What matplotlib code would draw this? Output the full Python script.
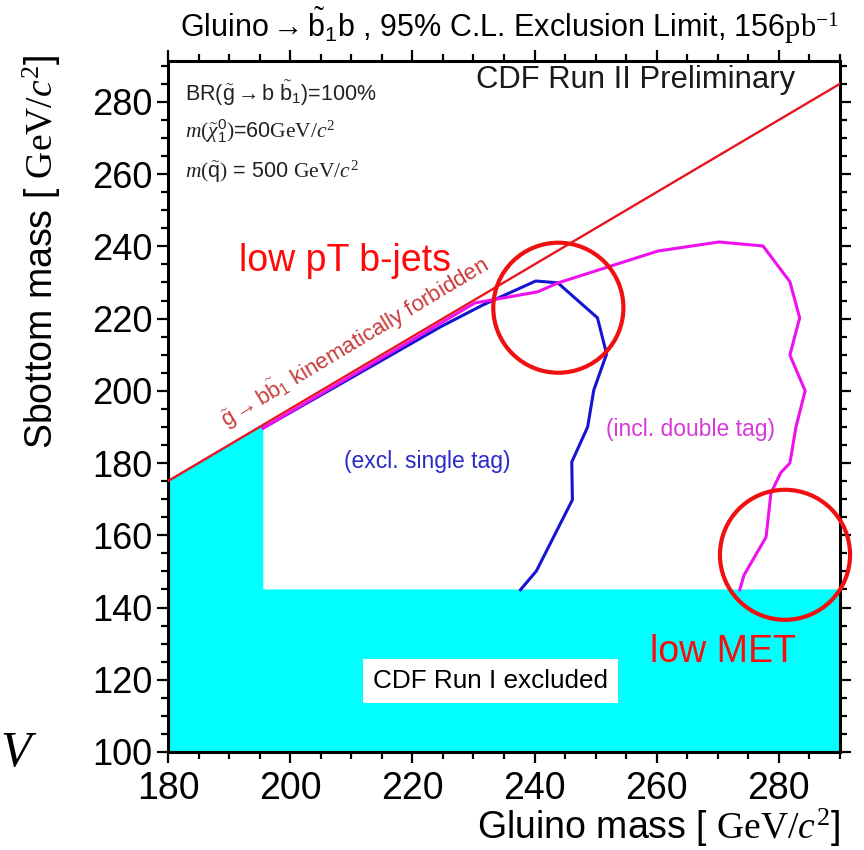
import matplotlib
matplotlib.use("Agg")
import matplotlib.pyplot as plt
from matplotlib.patches import Ellipse, Polygon
from matplotlib.ticker import MultipleLocator

plt.rcParams['mathtext.fontset'] = 'custom'
plt.rcParams['mathtext.rm'] = 'Liberation Serif'
plt.rcParams['mathtext.it'] = 'Liberation Serif:italic'
plt.rcParams['mathtext.bf'] = 'Liberation Serif:bold'
plt.rcParams['mathtext.sf'] = 'Liberation Sans'
SANS = ['Liberation Sans', 'DejaVu Sans']

# Kinematic limit m(sbottom) = m(gluino) - m(b)
kin_x = [180, 290]
kin_y = [175, 285]

# Run I excluded region
run1_x = [180, 180, 195.6, 195.6, 290, 290]
run1_y = [100, 175, 190.6, 145, 145, 100]

# Exclusion contour, single tag only
single_x = [195.6, 224.6, 231.6, 240.2, 243.8, 250.3, 251.8, 249.7, 248.7,
            246.1, 246.2, 240.3, 237.7]
single_y = [189.7, 217.7, 223.8, 230.4, 229.9, 220.2, 210.2, 200.2, 190.0,
            180.3, 169.8, 150.1, 144.9]

# Exclusion contour including double tag
double_x = [195.6, 230.2, 240.5, 243.9, 260.2, 270.2, 277.4, 281.8, 283.4,
            281.8, 284.3, 282.8, 281.8, 280.3, 278.7, 277.9, 274.3, 273.6]
double_y = [189.7, 224.3, 227.4, 229.9, 238.7, 241.2, 240.1, 230.2, 220.2,
            209.9, 200.0, 190.0, 180.0, 177.3, 171.7, 159.5, 149.0, 144.9]

fig = plt.figure(figsize=(8.64, 8.5), dpi=100)
ax = fig.add_axes([0.1944, 0.1153, 0.7778, 0.8129])
ax.set_xlim(180, 290)
ax.set_ylim(100, 291.3)

ax.add_patch(Polygon(list(zip(run1_x, run1_y)), closed=True,
                     facecolor='#00ffff', edgecolor='none', zorder=1))
ax.plot(kin_x, kin_y, color='#e8141e', lw=1.7, zorder=3)
ax.plot(single_x, single_y, color='#1414d2', lw=2.2, zorder=4)
ax.plot(double_x, double_y, color='#ee10ee', lw=2.2, zorder=5)

# highlighted regions
for cx, cy in [(243.9, 223.0), (281.0, 154.6)]:
    ax.add_patch(Ellipse((cx, cy), 21.3, 36.0, facecolor='none',
                         edgecolor='#f01010', lw=3.0, zorder=6, clip_on=False))

ax.text(209.0, 235.9, 'low pT b-jets', color='#ff0a0a', fontsize=27,
        family=SANS, ha='center', va='center', zorder=7)
ax.text(270.8, 127.7, 'low MET', color='#ff0a0a', fontsize=27,
        family=SANS, ha='center', va='center', zorder=7)
ax.text(222.5, 180.3, '(excl. single tag)', color='#2a2ac8', fontsize=16.5,
        family=SANS, ha='center', va='center')
ax.text(265.6, 189.2, '(incl. double tag)', color='#d838d8', fontsize=16.5,
        family=SANS, ha='center', va='center')
ax.text(232.8, 119.7, 'CDF Run I excluded', color='black', fontsize=18.8,
        family=SANS, ha='center', va='center',
        bbox=dict(facecolor='white', edgecolor='none', pad=7))
ax.text(256.6, 286.0, 'CDF Run II Preliminary', color='#1a1a1a', fontsize=22.3,
        family=SANS, ha='center', va='center')
ax.text(210.5, 213.5,
        r'$\tilde{\mathsf{g}}\rightarrow$b$\tilde{\mathsf{b}}_{\mathsf{1}}$ kinematically forbidden',
        color='#c83c3c', fontsize=16, family=SANS, rotation=31,
        rotation_mode='anchor', ha='center', va='center')

info = [
    r'BR($\tilde{\mathsf{g}}\rightarrow$b $\tilde{\mathsf{b}}_{\mathsf{1}}$)=100%',
    r'$m(\tilde{\chi}_{\mathsf{1}}^{\mathsf{0}})$=60$\mathrm{GeV}/c^2$',
    r'$m(\tilde{\mathsf{q}})$ = 500 $\mathrm{GeV}/c^2$',
]
for txt, yy in zip(info, [282.3, 272.0, 260.6]):
    ax.text(182.8, yy, txt, fontsize=15.5, family=SANS, color='#222222',
            ha='left', va='center')

ax.xaxis.set_major_locator(MultipleLocator(20))
ax.xaxis.set_minor_locator(MultipleLocator(5))
ax.yaxis.set_major_locator(MultipleLocator(20))
ax.yaxis.set_minor_locator(MultipleLocator(5))
ax.tick_params(which='both', direction='out', top=True, right=True,
               width=1.6, colors='black')
ax.tick_params(which='major', length=8)
ax.tick_params(which='minor', length=5)
ax.tick_params(axis='x', labelsize=27, pad=6)
ax.tick_params(axis='y', labelsize=26, pad=3)
for lab in ax.get_xticklabels() + ax.get_yticklabels():
    lab.set_family(SANS)
for sp in ax.spines.values():
    sp.set_linewidth(2.2)

fig.text(0.972, 0.026, r'Gluino mass [ $\mathrm{GeV}/c^2$]', fontsize=27,
         family=SANS, ha='right', va='center')
fig.text(0.048, 0.703, r'Sbottom mass [ $\mathrm{GeV}/c^2$]', fontsize=27,
         family=SANS, rotation=90, ha='center', va='center')
fig.text(0.59, 0.971,
         r'Gluino$\rightarrow\tilde{\mathsf{b}}_{\mathsf{1}}$b , 95% C.L. Exclusion Limit, 156$\mathrm{pb}^{-1}$',
         fontsize=22, family=SANS, ha='center', va='center')
fig.text(0.018, 0.099, 'V', fontsize=36, family='Liberation Serif',
         style='italic', ha='center', va='baseline')

fig.savefig('out.png', dpi=100, facecolor='white')
